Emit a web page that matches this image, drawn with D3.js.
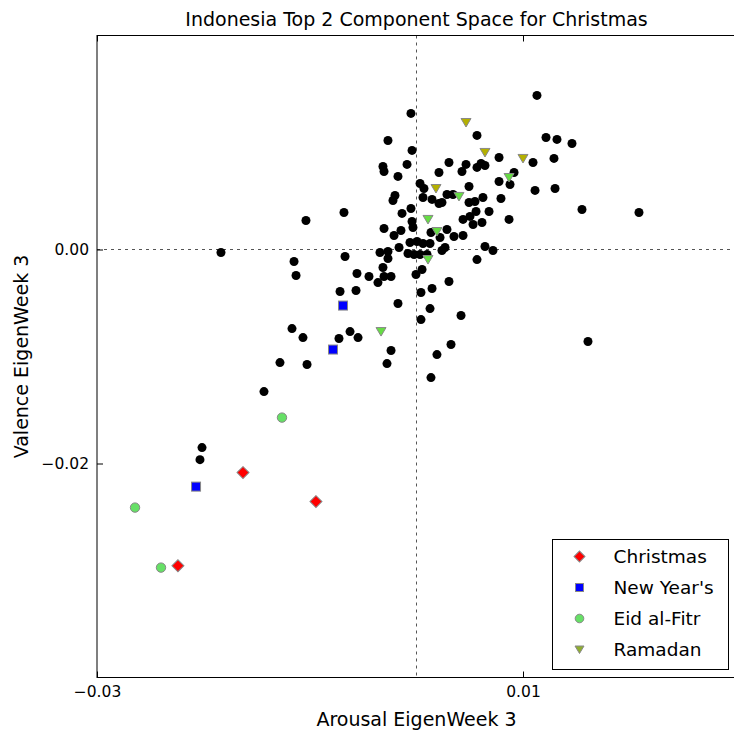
<!DOCTYPE html>
<html>
<head>
<meta charset="utf-8">
<script src="https://cdn.jsdelivr.net/npm/d3@7"></script>
<style>
  body { margin: 0; background: #fff; }
  text { font-family: "DejaVu Sans", sans-serif; fill: #000; }
</style>
</head>
<body>
<div id="scatter"></div>
<script>
/* Indonesia top 2 component space - scatter */

// other weeks (black dots), [arousal, valence]
const others = [
  [-0.00052, 0.01272], [0.01131, 0.01440], [0.00568, 0.01066], [0.01216, 0.01047],
  [0.01319, 0.01029], [0.01460, 0.00991], [-0.00268, 0.01019], [-0.00042, 0.00926],
  [-0.00089, 0.00795], [-0.00315, 0.00776], [-0.00305, 0.00729], [-0.00174, 0.00683],
  [0.00775, 0.00860], [0.01291, 0.00851], [0.01094, 0.00813], [0.00305, 0.00813],
  [0.00211, 0.00720], [0.00427, 0.00729], [0.00465, 0.00795], [0.00568, 0.00767],
  [0.00606, 0.00804], [0.00643, 0.00785], [0.00916, 0.00720], [0.00775, 0.00636],
  [0.00878, 0.00608], [0.01113, 0.00552], [0.01301, 0.00570], [0.00493, 0.00589],
  [0.00033, 0.00617], [0.00070, 0.00570], [0.00061, 0.00486], [-0.00202, 0.00505],
  [-0.00221, 0.00458], [-0.00681, 0.00346], [-0.01038, 0.00271], [-0.00136, 0.00337],
  [-0.00052, 0.00383], [-0.00042, 0.00262], [-0.00305, 0.00196], [-0.00211, 0.00131],
  [-0.00146, 0.00178], [-0.00033, 0.00206], [-0.01836, -0.00028], [-0.00164, 0.00019],
  [-0.00061, 0.00065], [0.00005, 0.00075], [0.00061, 0.00056], [0.00127, 0.00056],
  [-0.00080, -0.00037], [-0.00023, -0.00047], [0.00033, -0.00047], [0.00099, -0.00047],
  [-0.00343, -0.00028], [-0.00268, -0.00019], [-0.00671, -0.00065], [-0.01150, -0.00112],
  [-0.01131, -0.00243], [-0.00268, -0.00084], [-0.00315, -0.00168], [-0.00559, -0.00224],
  [-0.00446, -0.00252], [-0.00305, -0.00252], [-0.00239, -0.00252], [-0.00362, -0.00309],
  [-0.00005, -0.00234], [0.00052, -0.00187], [-0.00718, -0.00393], [-0.00568, -0.00383],
  [-0.00174, -0.00505], [0.00042, -0.00402], [-0.01169, -0.00739], [-0.01066, -0.00823],
  [-0.00624, -0.00767], [-0.00549, -0.00823], [-0.00728, -0.00832], [-0.00239, -0.00944],
  [-0.00277, -0.01066], [-0.01282, -0.01057], [-0.01028, -0.01075], [0.00042, -0.00655],
  [0.00127, -0.00552], [0.00136, -0.01197], [-0.01432, -0.01328], [-0.02014, -0.01851],
  [-0.02033, -0.01964], [0.00286, 0.00514], [0.00343, 0.00514], [0.00146, 0.00468],
  [0.00211, 0.00430], [0.00624, 0.00486], [0.00493, 0.00439], [0.00549, 0.00449],
  [0.00793, 0.00477], [0.01554, 0.00374], [0.02089, 0.00346], [0.00559, 0.00355],
  [0.00681, 0.00355], [0.00502, 0.00309], [0.00437, 0.00281], [0.00531, 0.00234],
  [0.00615, 0.00252], [0.00869, 0.00281], [0.00136, 0.00159], [0.00221, 0.00112],
  [0.00286, 0.00187], [0.00352, 0.00122], [0.00437, 0.00131], [0.00239, -0.00009],
  [0.00268, 0.00019], [0.00643, 0.00028], [0.00718, -0.00009], [0.00568, -0.00094],
  [0.00305, -0.00299], [0.00146, -0.00365], [0.00418, -0.00617], [0.00324, -0.00888],
  [0.00192, -0.00982], [0.01610, -0.00860], [0.00239, 0.00439]
];

const christmas = [[-0.01629, -0.02085], [-0.00944, -0.02356], [-0.02240, -0.02955]];
const newYears = [[-0.00690, -0.00524], [-0.00784, -0.00935], [-0.02070, -0.02216]];
const eid = [[-0.01263, -0.01571], [-0.02643, -0.02412], [-0.02399, -0.02973]];
const ramadanA = [[0.00465, 0.01187], [0.00643, 0.00907], [0.01000, 0.00851], [0.00183, 0.00570]];
const ramadanB = [[0.00869, 0.00673], [0.00399, 0.00496], [0.00108, 0.00281],
  [0.00192, 0.00168], [0.00108, -0.00094], [-0.00333, -0.00767]];

const xTicks = [-0.03, 0.01];
const xTickLabels = ["\u22120.03", "0.01"];
const yTicks = [0.00, -0.02];
const yTickLabels = ["0.00", "\u22120.02"];
const legendLabels = ["Christmas", "New Year's", "Eid al-Fitr", "Ramadan"];

const width = 734,
    height = 736,
    margin = ({ top: 35.5, right: -2, bottom: 58.5, left: 97 });

let svg = d3.select("#scatter")
    .append("svg")
    .attr("width", width)
    .attr("height", height);

let x = d3.scaleLinear()
    .domain([-0.03, 0.03])
    .range([margin.left, width - margin.right]);

let y = d3.scaleLinear()
    .domain([-0.04, 0.02])
    .range([height - margin.bottom, margin.top]);

// dashed zero lines
svg.append("line")
    .attr("x1", x(0)).attr("x2", x(0))
    .attr("y1", margin.top).attr("y2", height - margin.bottom)
    .attr("stroke", "#555").attr("stroke-dasharray", "3,4");
svg.append("line")
    .attr("x1", margin.left).attr("x2", width - margin.right)
    .attr("y1", y(0)).attr("y2", y(0))
    .attr("stroke", "#555").attr("stroke-dasharray", "3,4");

// axes, ticks inside
svg.append("g")
    .attr("transform", `translate(0,${height - margin.bottom})`)
    .call(d3.axisBottom(x).tickValues(xTicks).tickSize(-6).tickPadding(8)
        .tickFormat((d, i) => xTickLabels[i]));
svg.append("g")
    .attr("transform", `translate(0,${margin.top})`)
    .call(d3.axisTop(x).tickValues(xTicks).tickSize(-6).tickFormat(""));
svg.append("g")
    .attr("transform", `translate(${margin.left},0)`)
    .call(d3.axisLeft(y).tickValues(yTicks).tickSize(-6).tickPadding(8)
        .tickFormat((d, i) => yTickLabels[i]));

svg.selectAll(".domain").remove();
svg.selectAll(".tick text")
    .style("font-family", "DejaVu Sans")
    .style("font-size", "15.5px");
svg.selectAll(".tick line").attr("stroke", "#000");

// black dots
svg.append("g")
    .selectAll("circle")
    .data(others)
    .join("circle")
    .attr("cx", d => x(d[0]))
    .attr("cy", d => y(d[1]))
    .attr("r", 4.5)
    .attr("fill", "#000");

const edge = "#888";

// diamonds = squares turned 45 degrees
svg.append("g")
    .selectAll("path")
    .data(christmas)
    .join("path")
    .attr("d", d3.symbol(d3.symbolSquare, 72))
    .attr("transform", d => `translate(${x(d[0])},${y(d[1])}) rotate(45)`)
    .attr("fill", "#ff0000").attr("stroke", edge);

svg.append("g")
    .selectAll("rect")
    .data(newYears)
    .join("rect")
    .attr("x", d => x(d[0]) - 4.5)
    .attr("y", d => y(d[1]) - 4.5)
    .attr("width", 9).attr("height", 9)
    .attr("fill", "#0000ff").attr("stroke", edge);

svg.append("g")
    .selectAll("circle")
    .data(eid)
    .join("circle")
    .attr("cx", d => x(d[0]))
    .attr("cy", d => y(d[1]))
    .attr("r", 4.7)
    .attr("fill", "#66e066").attr("stroke", edge);

const tri = "M0,4.5L-5,-4L5,-4Z";
svg.append("g")
    .selectAll("path")
    .data(ramadanB)
    .join("path")
    .attr("d", tri)
    .attr("transform", d => `translate(${x(d[0])},${y(d[1])})`)
    .attr("fill", "#66dd44").attr("stroke", edge);
svg.append("g")
    .selectAll("path")
    .data(ramadanA)
    .join("path")
    .attr("d", tri)
    .attr("transform", d => `translate(${x(d[0])},${y(d[1])})`)
    .attr("fill", "#b4b000").attr("stroke", edge);

// frame
svg.append("rect")
    .attr("x", margin.left).attr("y", margin.top)
    .attr("width", width - margin.right - margin.left)
    .attr("height", height - margin.bottom - margin.top)
    .attr("fill", "none").attr("stroke", "#000");

// legend
let legend = svg.append("g").attr("transform", "translate(552.5,539.5)");
legend.append("rect")
    .attr("width", 176).attr("height", 130)
    .attr("fill", "#fff").attr("stroke", "#000");

const rowY = d => 17 + d * 31;
legend.append("path")
    .attr("d", d3.symbol(d3.symbolSquare, 60))
    .attr("transform", `translate(27,${rowY(0)}) rotate(45)`)
    .attr("fill", "#ff0000").attr("stroke", edge);
legend.append("rect")
    .attr("x", 23).attr("y", rowY(1) - 4).attr("width", 8).attr("height", 8)
    .attr("fill", "#0000ff").attr("stroke", edge);
legend.append("circle")
    .attr("cx", 27).attr("cy", rowY(2)).attr("r", 4.3)
    .attr("fill", "#66e066").attr("stroke", edge);
legend.append("path")
    .attr("d", "M0,4L-4.5,-3.5L4.5,-3.5Z")
    .attr("transform", `translate(27,${rowY(3)})`)
    .attr("fill", "#8fae30").attr("stroke", edge);

legend.selectAll(".lbl")
    .data(legendLabels)
    .join("text")
    .attr("class", "lbl")
    .attr("x", 61)
    .attr("y", (d, i) => rowY(i))
    .attr("dy", "0.35em")
    .style("font-size", "18.5px")
    .text(d => d);

// title and axis labels
svg.append("text")
    .attr("x", x(0)).attr("y", 26)
    .attr("text-anchor", "middle")
    .style("font-size", "19px")
    .text("Indonesia Top 2 Component Space for Christmas");

svg.append("text")
    .attr("x", x(0)).attr("y", 726)
    .attr("text-anchor", "middle")
    .style("font-size", "19px")
    .text("Arousal EigenWeek 3");

svg.append("text")
    .attr("transform", `translate(28,${y(-0.01)}) rotate(-90)`)
    .attr("text-anchor", "middle")
    .style("font-size", "19px")
    .text("Valence EigenWeek 3");
</script>
</body>
</html>
